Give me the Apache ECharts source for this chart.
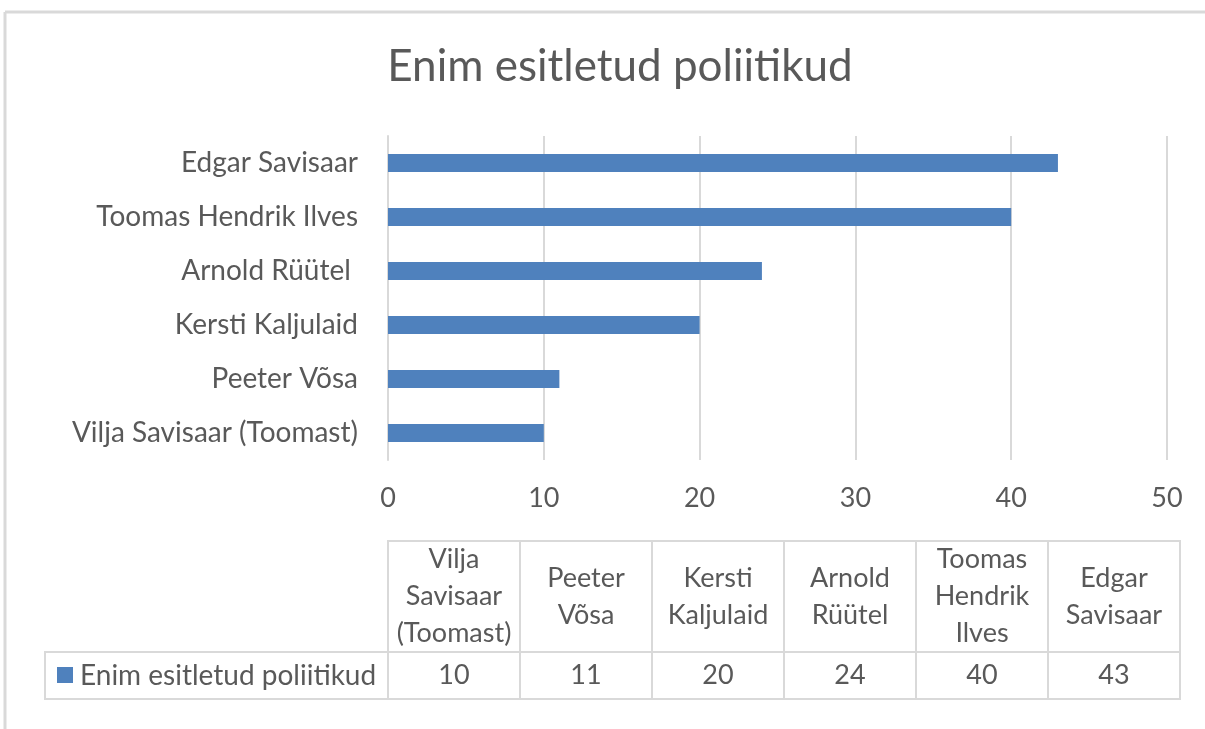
<!DOCTYPE html>
<html>
<head>
<meta charset="utf-8">
<script src="https://cdn.jsdelivr.net/npm/echarts@6/dist/echarts.min.js"></script>
<style>
  html, body { margin: 0; padding: 0; background: #fff; }
  #chart { width: 1205px; height: 729px; }
</style>
</head>
<body>
<div id="chart"></div>
<script>
// data, bottom to top as drawn on the category axis
const categories = ['Vilja Savisaar (Toomast)', 'Peeter Võsa', 'Kersti Kaljulaid', 'Arnold Rüütel ', 'Toomas Hendrik Ilves', 'Edgar Savisaar']
const values = [10, 11, 20, 24, 40, 43]
const seriesName = 'Enim esitletud poliitikud'
const titleText = 'Enim esitletud poliitikud'
const xTicks = [0, 10, 20, 30, 40, 50]

const font = 'Lato, "Open Sans", sans-serif'
const fontSize = 27
const labelSize = 28
const textColor = '#595959'
const lineColor = '#d9d9d9'
const barColor = '#4f81bd'

// data table layout
const tableLeft = 388
const colWidth = 132
const headTop = 541
const headBottom = 652
const rowBottom = 699
const legendLeft = 45

const graphics = [
  // outer frame (top + left edge)
  { type: 'line', shape: { x1: 5, y1: 12, x2: 1205, y2: 12 }, style: { stroke: lineColor, lineWidth: 3 } },
  { type: 'line', shape: { x1: 5, y1: 12, x2: 5, y2: 729 }, style: { stroke: lineColor, lineWidth: 3 } },
  // legend cell
  { type: 'rect', shape: { x: legendLeft, y: headBottom, width: tableLeft - legendLeft, height: rowBottom - headBottom },
    style: { fill: 'none', stroke: lineColor, lineWidth: 2 } },
  { type: 'rect', shape: { x: 57, y: 667, width: 16, height: 16 }, style: { fill: barColor } },
  { type: 'text', x: 80, y: (headBottom + rowBottom) / 2,
    style: { text: seriesName, font: labelSize + 'px ' + font, fill: textColor, verticalAlign: 'middle', align: 'left' } }
]

categories.forEach((name, i) => {
  const x = tableLeft + i * colWidth
  graphics.push(
    { type: 'rect', shape: { x, y: headTop, width: colWidth, height: headBottom - headTop },
      style: { fill: 'none', stroke: lineColor, lineWidth: 2 } },
    { type: 'rect', shape: { x, y: headBottom, width: colWidth, height: rowBottom - headBottom },
      style: { fill: 'none', stroke: lineColor, lineWidth: 2 } },
    { type: 'text', x: x + colWidth / 2, y: (headTop + headBottom) / 2,
      style: { text: name.trim().split(' ').join('\n'), font: fontSize + 'px ' + font, lineHeight: 37,
        fill: textColor, align: 'center', verticalAlign: 'middle' } },
    { type: 'text', x: x + colWidth / 2, y: (headBottom + rowBottom) / 2,
      style: { text: String(values[i]), font: fontSize + 'px ' + font, fill: textColor, align: 'center', verticalAlign: 'middle' } }
  )
})

const chart = echarts.init(document.getElementById('chart'))
chart.setOption({
  backgroundColor: '#fff',
  animation: false,
  title: {
    text: titleText,
    left: 615,
    top: 40,
    textAlign: 'center',
    textStyle: { fontFamily: font, fontSize: 44, fontWeight: 'normal', color: textColor }
  },
  grid: { left: 388, right: 38, top: 136, bottom: 269 },
  xAxis: {
    type: 'value',
    min: xTicks[0],
    max: xTicks[xTicks.length - 1],
    interval: 10,
    axisLine: { show: false },
    axisTick: { show: false },
    splitLine: { show: true, lineStyle: { color: lineColor, width: 2 } },
    axisLabel: { color: textColor, fontFamily: font, fontSize: fontSize, margin: 25 }
  },
  yAxis: {
    type: 'category',
    data: categories,
    axisLine: { show: true, lineStyle: { color: lineColor, width: 2 } },
    axisTick: { show: false },
    axisLabel: { color: textColor, fontFamily: font, fontSize: labelSize, margin: 30 }
  },
  series: [{
    name: seriesName,
    type: 'bar',
    data: values,
    barWidth: 18,
    itemStyle: { color: barColor }
  }],
  graphic: graphics
})
</script>
</body>
</html>
